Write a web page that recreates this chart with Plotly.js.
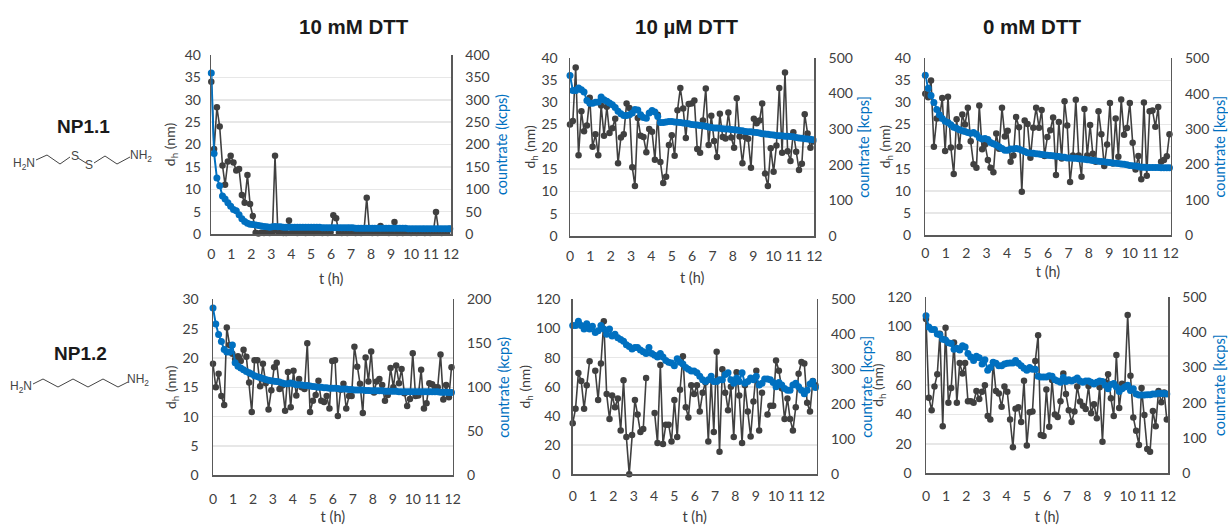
<!DOCTYPE html>
<html><head><meta charset="utf-8">
<script src="https://cdn.plot.ly/plotly-3.0.1.min.js"></script>
<style>html,body{margin:0;padding:0;background:#fff}#chart{width:1228px;height:525px}</style>
</head><body><div id="chart"></div>
<script>
const hours=[0,.14,.28,.42,.56,.69,.83,.97,1.11,1.25,1.39,1.53,1.67,1.81,1.94,2.08,2.22,2.36,2.5,2.64,2.78,2.92,3.06,3.19,3.33,3.47,3.61,3.75,3.89,4.03,4.17,4.31,4.44,4.58,4.72,4.86,5,5.14,5.28,5.42,5.56,5.69,5.83,5.97,6.11,6.25,6.39,6.53,6.67,6.81,6.94,7.08,7.22,7.36,7.5,7.64,7.78,7.92,8.06,8.19,8.33,8.47,8.61,8.75,8.89,9.03,9.17,9.31,9.44,9.58,9.72,9.86,10,10.14,10.28,10.42,10.56,10.69,10.83,10.97,11.11,11.25,11.39,11.53,11.67,11.81,11.94];
const xTicks=[0,1,2,3,4,5,6,7,8,9,10,11,12];

const np11_10mM_dh=[34,19,28.3,24,15.3,11,16.2,17.5,16,14.2,14.5,8.7,7,13.2,6.7,4,.3,.1,.3,.2,.3,.2,.5,17.5,.6,.3,.2,.2,3,.3,.3,.2,.4,.3,.2,.4,.3,.2,.3,.4,.2,.3,.2,.4,4.2,3.5,.3,.2,.3,.2,.3,.4,.2,.3,.2,.4,8.1,.3,.2,.3,.2,1.8,.3,.4,.2,.3,2.7,.2,.3,.2,.4,.3,.2,.3,.2,.4,.3,.2,.3,.2,.3,4.9,.3,.2,.4,.3,1.2];
const np11_10mM_rate=[360,180,125,108,85,78,70,62,55,52,43,34,28,24,22,21,20,19,18,17,16,15,16,17,16,16,15,15,15,15,15,15,15,15,15,15,15,15,15,15,14,14,14,14,14,14,14,14,14,14,14,14,13,13,13,13,13,13,13,13,13,13,13,13,13,13,13,13,13,13,13,12,12,12,12,12,12,12,12,12,12,12,12,12,12,12,12];
const np11_10uM_dh=[25,25.8,37.8,18.1,28,23.5,24.8,31,20,22.8,18.1,29.3,22.5,29,23.1,24.2,26.3,16.3,22.1,22.8,29.7,28.7,15.4,11.2,26.5,22.5,22.2,18.8,24,23.4,17.1,27.2,16.6,11.9,13.3,20.4,22.6,18,28.2,33.2,28.6,22,29.6,29.7,30.4,19.5,18.7,25.9,33.1,20.4,27,21.3,17.7,27.4,22.2,21.9,27.7,22.1,19.8,30.9,22.3,16.3,22.2,21.8,15.3,26.3,25.3,25.9,29.7,14,11.2,19.7,14.4,20.3,33.2,18.7,36.7,19,16.8,23.3,18.9,14.8,16.2,27.3,23,19.8,21.2];
const np11_10uM_rate=[450,408,408,415,410,404,380,372,372,375,376,390,382,378,373,368,360,350,343,338,338,340,345,355,353,340,332,330,345,352,348,335,318,318,320,321,321,320,319,318,317,316,315,313,312,311,310,309,308,306,304,303,303,302,301,300,300,299,298,297,296,295,293,292,292,291,290,289,287,286,285,284,283,282,281,281,280,280,279,278,276,275,274,273,272,271,270];
const np11_0mM_dh=[32,31.2,35,20,26.4,26.5,31,19,31.3,19.8,13.8,26.2,20,27.3,25,28.8,21.2,16,15.2,29.3,19.4,20.5,17,15.2,14.2,23,19.5,28.8,22.3,23.6,16.6,18,26.7,24.4,9.8,25.9,25.1,17.5,24.3,28.8,24.3,28.3,17.9,22.2,23.7,26.6,13.6,25.6,17.3,30.3,24.8,12,18,30.6,18,13.2,28.5,18,24.9,18.4,16.6,28,22.8,15.6,20.5,29.9,16.2,26.4,17.7,30.7,22.7,24.2,29.9,20.9,14.8,17.9,12.6,30,13.4,28,28.2,24.5,29,16.6,17,17.8,22.8];
const np11_0mM_rate=[452,415,395,375,355,340,330,322,318,312,305,302,298,295,293,290,288,290,285,275,272,273,270,262,258,255,250,245,240,240,243,243,245,243,240,236,233,232,231,230,229,228,227,226,225,224,223,222,221,220,218,218,217,217,216,215,214,213,212,211,210,209,208,207,206,205,204,203,202,201,200,199,197,196,195,194,192,192,191,191,191,191,191,190,190,190,190];
const np12_10mM_dh=[19,15,17.3,13.5,12,25.2,22.2,20.7,19.8,20.3,19.5,21.4,20.2,15.8,10.8,19.6,19.6,15.2,19,15.7,11.2,14.5,18.4,19.2,14.7,15.3,11,17.6,11.6,17.8,13.6,16.4,15,14.7,22.5,10.8,12.7,13.7,16.1,12.7,12.5,13.5,11.4,19.5,19.6,10.1,14.6,15.6,11.4,13.5,13.5,21.9,18.5,15.6,10.6,20.1,16,21.1,14.1,16,16.4,15.4,12.7,13.7,18.3,15,18.7,15.7,18.1,14,11.8,13,20.8,13.5,13.6,18,11.4,12.3,15.7,15.5,15,15,20.6,12.9,15.4,13.3,18.4];
const np12_10mM_rate=[190,172,160,152,143,140,140,148,128,124,122,120,118,116.5,115,113,112,111,110,109,108,107.5,107,106.5,106,105,104,104,105,104,103,103,102.5,102,102,101.5,101,100.5,100,100,99.5,99.5,99,99,99,98.5,98,98,98,97.5,97.5,97,97,97,97,96.5,96.5,96,96,96,96,96,95.5,95.5,95.5,95.5,95.5,95,95,95,95,95,95,95,95,95,95,95,95,95,95,95,94.5,94.5,94.5,94,94];
const np12_10uM_dh=[35,45,69.5,64,45,61,77.5,null,71,51,76,105,55,38,54,46,52,30,64.5,25.5,0,27,51,41,29,31,66,null,null,42,21.5,75,20.7,34,34,22.5,51,25.5,58,81,46,39,61,55,61,43,56,63,22.5,65,29,84,15.5,72,56,44,60,25.5,70,54,21.5,61,43,26,50,71,30,56,null,41,47,47,78,71,59,38,52,38,30,46,69,77,76,49,43,64,61];
const np12_10uM_rate=[425,425,437,425,415,430,415,423,405,410,425,415,400,415,395,400,390,385,380,370,365,358,362,362,355,350,345,362,345,340,335,345,335,325,320,318,310,330,320,315,305,300,295,295,290,280,270,265,270,280,265,265,270,270,285,290,270,260,275,265,290,260,265,275,270,280,255,260,272,272,270,262,250,262,255,245,240,240,255,260,250,240,230,240,258,265,248];
const np12_0mM_dh=[105,51.5,43,59,67.5,95,32,99,48,58,89,48,75,68,75,49,49,48,56,50.5,55.5,60,39,36.7,75.5,56,54.4,45.3,59,55.5,36.7,17.7,44,44.9,35,63,19,41.5,42,76.4,94,26,25.4,57,31.7,63.5,40,38.3,49,68,54,43,35,42,59,48.8,46,43.8,59.4,40.8,47,37.4,58.5,21.5,62,67.5,51,39,80.5,44.4,61,60,107.7,66.4,38,29,19.3,58,39.7,16.5,14.7,42.4,32,56,48.3,55,36.7];
const np12_0mM_rate=[447,415,408,408,395,393,380,378,370,368,352,355,350,362,358,340,330,320,332,328,310,322,292,300,315,312,305,305,310,312,313,313,320,312,305,298,292,300,295,295,275,273,273,273,277,275,265,262,258,272,260,265,262,265,270,262,258,262,262,258,253,258,262,260,250,240,252,255,245,232,240,245,250,235,240,225,222,222,222,223,223,225,225,227,226,226,225];

const panelTitles=["10 mM DTT","10 µM DTT","0 mM DTT"];
const rowLabels=["NP1.1","NP1.2"];
const DARK="#404040",BLUE="#0070C0",GRID="#e7e7e7",AX="#595959",TXT="#404040";
const W=1228,H=525;
const panels=[
 {dh:np11_10mM_dh,rate:np11_10mM_rate,box:[211.3,451,55,234],yl:[40,5],yr:[400,50],rt:"countrate (kcps)",xs:17,ts:12,ll:6,ls:12,rs:14},
 {dh:np11_10uM_dh,rate:np11_10uM_rate,box:[570,814.3,57.7,236],yl:[40,5],yr:[500,100],rt:"countrate [kcps]",xs:17,ts:9,ll:8,ls:8,rs:13},
 {dh:np11_0mM_dh,rate:np11_0mM_rate,box:[925.3,1170.7,58.3,235],yl:[40,5],yr:[500,100],rt:"countrate [kcps]",xs:15,ts:6,ll:10,ls:7,rs:15},
 {dh:np12_10mM_dh,rate:np12_10mM_rate,box:[213,452.7,299.3,475.3],yl:[30,5],yr:[200,50],rt:"countrate (kcps)",xs:20,ts:9,ll:10,ls:8,rs:14},
 {dh:np12_10uM_dh,rate:np12_10uM_rate,box:[572.7,816.7,299.3,474.3],yl:[120,20],yr:[500,100],rt:"countrate [kcps]",xs:18,ts:11,ll:8,ls:8,rs:13},
 {dh:np12_0mM_dh,rate:np12_0mM_rate,box:[926,1168,297,473.3],yl:[120,20],yr:[500,100],rt:"countrate [kcps]",xs:19,ts:11,ll:10,ls:6,rs:15}
];

const tickFont={family:"Lato, sans-serif",size:14,color:TXT};
const traces=[],layout={width:W,height:H,margin:{l:0,r:0,t:0,b:0},paper_bgcolor:"#fff",plot_bgcolor:"rgba(0,0,0,0)",showlegend:false,annotations:[],shapes:[],font:{family:"Lato, sans-serif",color:TXT}};
panels.forEach((p,i)=>{
  const n=i+1,yL=2*i+1,yR=2*i+2;
  const xName=n===1?"x":"x"+n, yLName=yL===1?"y":"y"+yL, yRName="y"+yR;
  const xKey=n===1?"xaxis":"xaxis"+n, yLKey=yL===1?"yaxis":"yaxis"+yL, yRKey="yaxis"+yR;
  const [x0,x1,yt,yb]=p.box;
  traces.push({type:"scatter",mode:"lines+markers",x:hours,y:p.dh,xaxis:xName,yaxis:yLName,cliponaxis:false,connectgaps:false,
    line:{color:DARK,width:1.6},marker:{color:DARK,size:6.5},hoverinfo:"skip"});
  traces.push({type:"scatter",mode:"lines+markers",x:hours,y:p.rate,xaxis:xName,yaxis:yRName,cliponaxis:false,
    line:{color:BLUE,width:2},marker:{color:BLUE,size:7},hoverinfo:"skip"});
  layout[xKey]={domain:[x0/W,x1/W],range:[0,12],anchor:yLName,tickmode:"array",tickvals:xTicks,ticktext:xTicks.map(String),
    tickfont:tickFont,ticks:"",showgrid:false,zeroline:false,showline:true,linecolor:AX,linewidth:1.5,ticklabelstandoff:p.xs-10,
    title:{text:"t (h)",font:{family:"Lato, sans-serif",size:14.5,color:TXT},standoff:p.ts}};
  layout[yLKey]={domain:[1-yb/H,1-yt/H],range:[0,p.yl[0]],dtick:p.yl[1],tick0:0,anchor:xName,side:"left",
    tickfont:tickFont,ticks:"",showgrid:true,gridcolor:GRID,gridwidth:1.5,zeroline:false,showline:true,linecolor:AX,linewidth:1.5,ticklabelstandoff:p.ll,
    title:{text:"d<sub>h</sub> (nm)",font:{family:"Lato, sans-serif",size:14,color:TXT},standoff:p.ls-6}};
  layout[yRKey]={domain:[1-yb/H,1-yt/H],range:[0,p.yr[0]],dtick:p.yr[1],tick0:0,anchor:xName,overlaying:yLName,side:"right",
    tickfont:tickFont,ticks:"",showgrid:false,zeroline:false,showline:true,linecolor:AX,linewidth:1.5,ticklabelstandoff:10,
    title:{text:p.rt,font:{family:"Lato, sans-serif",size:14.5,color:BLUE},standoff:p.rs-6}};
});
const px=x=>x/W,py=y=>1-y/H;
function label(text,x,y,size,bold,color){layout.annotations.push({text:bold?"<b>"+text+"</b>":text,xref:"paper",yref:"paper",x:px(x),y:py(y),xanchor:"center",yanchor:"middle",showarrow:false,font:{family:"Liberation Sans, Arial, sans-serif",size,color:color||"#1a1a1a"}})}
[354,686,1032].forEach((x,i)=>label(panelTitles[i],x,26,20.5,true));
label(rowLabels[0],83,127,19,true);
label(rowLabels[1],80,353,19,true);
function bond(pts){layout.shapes.push({type:"path",xref:"paper",yref:"paper",path:pts.map((q,i)=>(i?"L":"M")+px(q[0])+" "+py(q[1])).join(" "),line:{color:"#444",width:1}})}
bond([[36,160],[47,155],[60,164],[70,157]]);bond([[78,158],[86,163]]);bond([[94,163],[105,156],[117,164],[130,157]]);
bond([[33,384],[43,379],[58,387],[73,379],[88,387],[103,379],[118,387],[128,382]]);
label("H<sub>2</sub>N",24,164,12,false,"#444");label("S",75,156,12,false,"#444");label("S",89,165,12,false,"#444");label("NH<sub>2</sub>",141,156,12,false,"#444");
label("H<sub>2</sub>N",21,387,12,false,"#444");label("NH<sub>2</sub>",138,380,12,false,"#444");
Plotly.newPlot("chart",traces,layout,{staticPlot:true,displayModeBar:false});
</script></body></html>
